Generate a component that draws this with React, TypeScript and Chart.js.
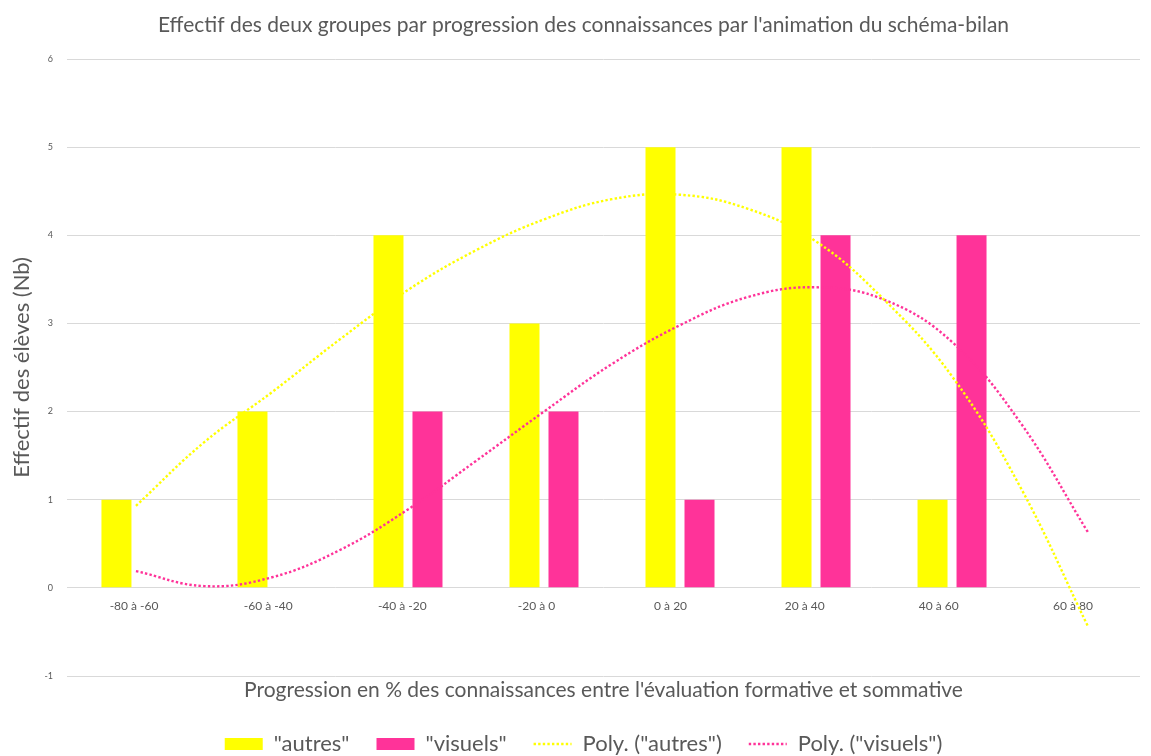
import React, { useEffect, useRef } from 'react';
import { Chart, registerables } from 'chart.js';

Chart.register(...registerables);

const categories = ['-80 à -60', '-60 à -40', '-40 à -20', '-20 à 0', '0 à 20', '20 à 40', '40 à 60', '60 à 80'];
const autres = [1, 2, 4, 3, 5, 5, 1, 0];
const visuels = [0, 0, 2, 2, 1, 4, 4, 0];
// trend lines (Excel polynomial trendlines), at half-category steps
const trendPositions = [0, 0.5, 1, 1.5, 2, 2.5, 3, 3.5, 4, 4.5, 5, 5.5, 6, 6.5, 7];
const trendAutres = [0.93, 1.65, 2.22, 2.82, 3.38, 3.83, 4.18, 4.41, 4.46, 4.3, 3.93, 3.27, 2.4, 1.15, -0.44];
const trendVisuels = [0.19, 0.02, 0.12, 0.43, 0.89, 1.44, 2.0, 2.54, 2.98, 3.3, 3.41, 3.27, 2.79, 1.88, 0.63];
const yMin = -1;
const yMax = 6;

const FONT = 'Lato';
const TEXT = '#595959';
const YELLOW = '#FFFF00';
const PINK = '#FF3399';

export default function App() {
  const ref = useRef<HTMLCanvasElement | null>(null);

  useEffect(() => {
    if (!ref.current) return;
    const dash = [2.4, 2.2];
    const chart = new Chart(ref.current, {
      type: 'bar',
      data: {
        labels: categories,
        datasets: [
          {
            label: '"autres"',
            data: autres.map((v, i) => ({ x: i, y: v })),
            backgroundColor: YELLOW,
            borderColor: YELLOW,
            borderWidth: 0,
            xAxisID: 'xb',
            yAxisID: 'y',
            categoryPercentage: 78 / 136,
            barPercentage: 30 / 39,
            order: 2,
          },
          {
            label: '"visuels"',
            data: visuels.map((v, i) => ({ x: i, y: v })),
            backgroundColor: PINK,
            borderColor: PINK,
            borderWidth: 0,
            xAxisID: 'xb',
            yAxisID: 'y',
            categoryPercentage: 78 / 136,
            barPercentage: 30 / 39,
            order: 2,
          },
          {
            type: 'line',
            label: 'Poly. ("autres")',
            data: trendAutres.map((v, i) => ({ x: trendPositions[i], y: v })),
            borderColor: YELLOW,
            backgroundColor: YELLOW,
            borderWidth: 2.4,
            borderDash: dash,
            pointRadius: 0,
            tension: 0.4,
            fill: false,
            xAxisID: 'xb',
            yAxisID: 'y',
            order: 1,
          },
          {
            type: 'line',
            label: 'Poly. ("visuels")',
            data: trendVisuels.map((v, i) => ({ x: trendPositions[i], y: v })),
            borderColor: PINK,
            backgroundColor: PINK,
            borderWidth: 2.4,
            borderDash: dash,
            pointRadius: 0,
            tension: 0.4,
            fill: false,
            xAxisID: 'xb',
            yAxisID: 'y',
            order: 1,
          },
        ] as any,
      },
      options: {
        animation: false,
        responsive: false,
        maintainAspectRatio: false,
        layout: { padding: { left: 27, right: 11, top: 0, bottom: -9 } },
        font: { family: FONT },
        plugins: {
          tooltip: { enabled: false },
          title: {
            display: true,
            text: "Effectif des deux groupes par progression des connaissances par l'animation du schéma-bilan",
            color: TEXT,
            font: { family: FONT, size: 21, weight: 'normal' },
            padding: { top: 12.4, bottom: 21.4 },
          },
          legend: {
            position: 'bottom',
            labels: {
              usePointStyle: true,
              pointStyleWidth: 38,
              boxHeight: 12,
              padding: 27,
              color: TEXT,
              font: { family: FONT, size: 22 },
              generateLabels: (c: any) =>
                c.data.datasets.map((ds: any, i: number) => ({
                  text: ds.label,
                  fillStyle: ds.backgroundColor,
                  strokeStyle: ds.borderColor,
                  fontColor: TEXT,
                  lineWidth: ds.type === 'line' ? 2.4 : 0,
                  lineDash: ds.type === 'line' ? dash : [],
                  pointStyle: ds.type === 'line' ? 'line' : 'rect',
                  hidden: false,
                  datasetIndex: i,
                })),
            },
          },
        },
        scales: {
          x: {
            type: 'category',
            position: { y: 0 } as any,
            offset: true,
            grid: { display: false, drawTicks: false },
            border: { display: false },
            ticks: {
              color: TEXT,
              font: { family: FONT, size: 12 },
              padding: 11,
              maxRotation: 0,
              autoSkip: false,
            },
          },
          xb: {
            type: 'linear',
            position: 'bottom',
            offset: false,
            min: -0.507,
            max: 7.382,
            afterBuildTicks: (s: any) => {
              s.ticks = categories.map((_, i) => ({ value: i }));
            },
            grid: { display: false, drawTicks: false },
            border: { display: false },
            ticks: { display: false },
            title: {
              display: true,
              text: "Progression en % des connaissances entre l'évaluation formative et sommative",
              color: TEXT,
              font: { family: FONT, size: 21 },
              padding: { top: 1.4, bottom: 3.4 },
            },
          },
          y: {
            type: 'linear',
            min: yMin,
            max: yMax,
            afterFit: (s: any) => {
              s.width = 40;
            },
            grid: { color: '#D9D9D9', lineWidth: 1, drawTicks: false },
            border: { display: false },
            ticks: {
              stepSize: 1,
              color: TEXT,
              font: { family: FONT, size: 9 },
              padding: 14,
            },
            title: {
              display: true,
              text: 'Effectif des élèves (Nb)',
              color: TEXT,
              font: { family: FONT, size: 22 },
              padding: { top: -18.2, bottom: 0 },
            },
          },
        },
      } as any,
    });
    return () => chart.destroy();
  }, []);

  return (
    <div style={{ position: 'fixed', left: 0, top: 0, width: 1151, height: 756, background: '#fff' }}>
      <canvas ref={ref} width={1151} height={756} style={{ display: 'block' }} />
    </div>
  );
}
